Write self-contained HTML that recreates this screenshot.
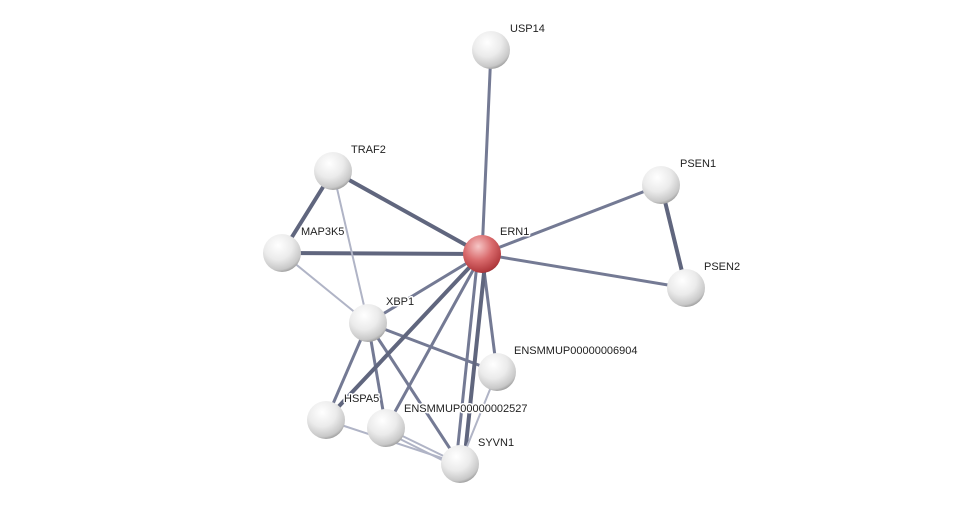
<!DOCTYPE html>
<html><head><style>body{margin:0;background:#fff}svg{display:block}text{font-family:"Liberation Sans",sans-serif;font-size:11px;fill:#222;stroke:#fff;stroke-width:3px;paint-order:stroke;stroke-linejoin:round}</style></head><body>
<svg width="976" height="510" viewBox="0 0 976 510">
<defs>
<radialGradient id="g" cx="0.4" cy="0.3" r="0.75"><stop offset="0" stop-color="#fff"/><stop offset="0.5" stop-color="#ebebeb"/><stop offset="0.85" stop-color="#c8c8c8"/><stop offset="1" stop-color="#8e8e8e"/></radialGradient>
<radialGradient id="r" cx="0.4" cy="0.3" r="0.75"><stop offset="0" stop-color="#f6c6c6"/><stop offset="0.5" stop-color="#d96a6c"/><stop offset="0.9" stop-color="#b23a3e"/><stop offset="1" stop-color="#8a2a2e"/></radialGradient>
</defs>
<g stroke-linecap="round">
<g stroke="#747a94" stroke-width="3">
<line x1="482" y1="254" x2="491" y2="50"/>
<line x1="482" y1="254" x2="661" y2="185"/>
<line x1="482" y1="254" x2="686" y2="288"/>
<line x1="482" y1="254" x2="368" y2="323"/>
<line x1="482" y1="254" x2="497" y2="372"/>
<line x1="482" y1="254" x2="386" y2="428"/>
<line x1="368" y1="323" x2="497" y2="372"/>
<line x1="368" y1="323" x2="326" y2="420"/>
<line x1="368" y1="323" x2="386" y2="428"/>
<line x1="368" y1="323" x2="460" y2="464"/>
<line x1="478" y1="254" x2="456" y2="464"/>
</g>
<g stroke="#60667e" stroke-width="4">
<line x1="482" y1="254" x2="333" y2="171"/>
<line x1="482" y1="254" x2="282" y2="253"/>
<line x1="482" y1="254" x2="326" y2="420"/>
<line x1="486" y1="254" x2="464" y2="464"/>
<line x1="333" y1="171" x2="282" y2="253"/>
<line x1="661" y1="185" x2="686" y2="288"/>
</g>
<g stroke="#b0b4c6" stroke-width="2">
<line x1="333" y1="171" x2="368" y2="323"/>
<line x1="282" y1="253" x2="368" y2="323"/>
<line x1="326" y1="420" x2="460" y2="464"/>
<line x1="386" y1="428" x2="460" y2="464"/>
<line x1="386" y1="432" x2="458" y2="468"/>
<line x1="497" y1="372" x2="460" y2="464"/>
</g>
</g>
<g>
<circle cx="491" cy="50" r="19" fill="url(#g)"/>
<circle cx="333" cy="171" r="19" fill="url(#g)"/>
<circle cx="661" cy="185" r="19" fill="url(#g)"/>
<circle cx="282" cy="253" r="19" fill="url(#g)"/>
<circle cx="482" cy="254" r="19" fill="url(#r)"/>
<circle cx="686" cy="288" r="19" fill="url(#g)"/>
<circle cx="368" cy="323" r="19" fill="url(#g)"/>
<circle cx="497" cy="372" r="19" fill="url(#g)"/>
<circle cx="326" cy="420" r="19" fill="url(#g)"/>
<circle cx="386" cy="428" r="19" fill="url(#g)"/>
<circle cx="460" cy="464" r="19" fill="url(#g)"/>
</g>
<text x="510" y="32">USP14</text>
<text x="351" y="153">TRAF2</text>
<text x="680" y="167">PSEN1</text>
<text x="301" y="235">MAP3K5</text>
<text x="500" y="235">ERN1</text>
<text x="704" y="270">PSEN2</text>
<text x="386" y="305">XBP1</text>
<text x="514" y="354">ENSMMUP00000006904</text>
<text x="344" y="402">HSPA5</text>
<text x="404" y="412">ENSMMUP00000002527</text>
<text x="478" y="446">SYVN1</text>
</svg>
</body></html>
